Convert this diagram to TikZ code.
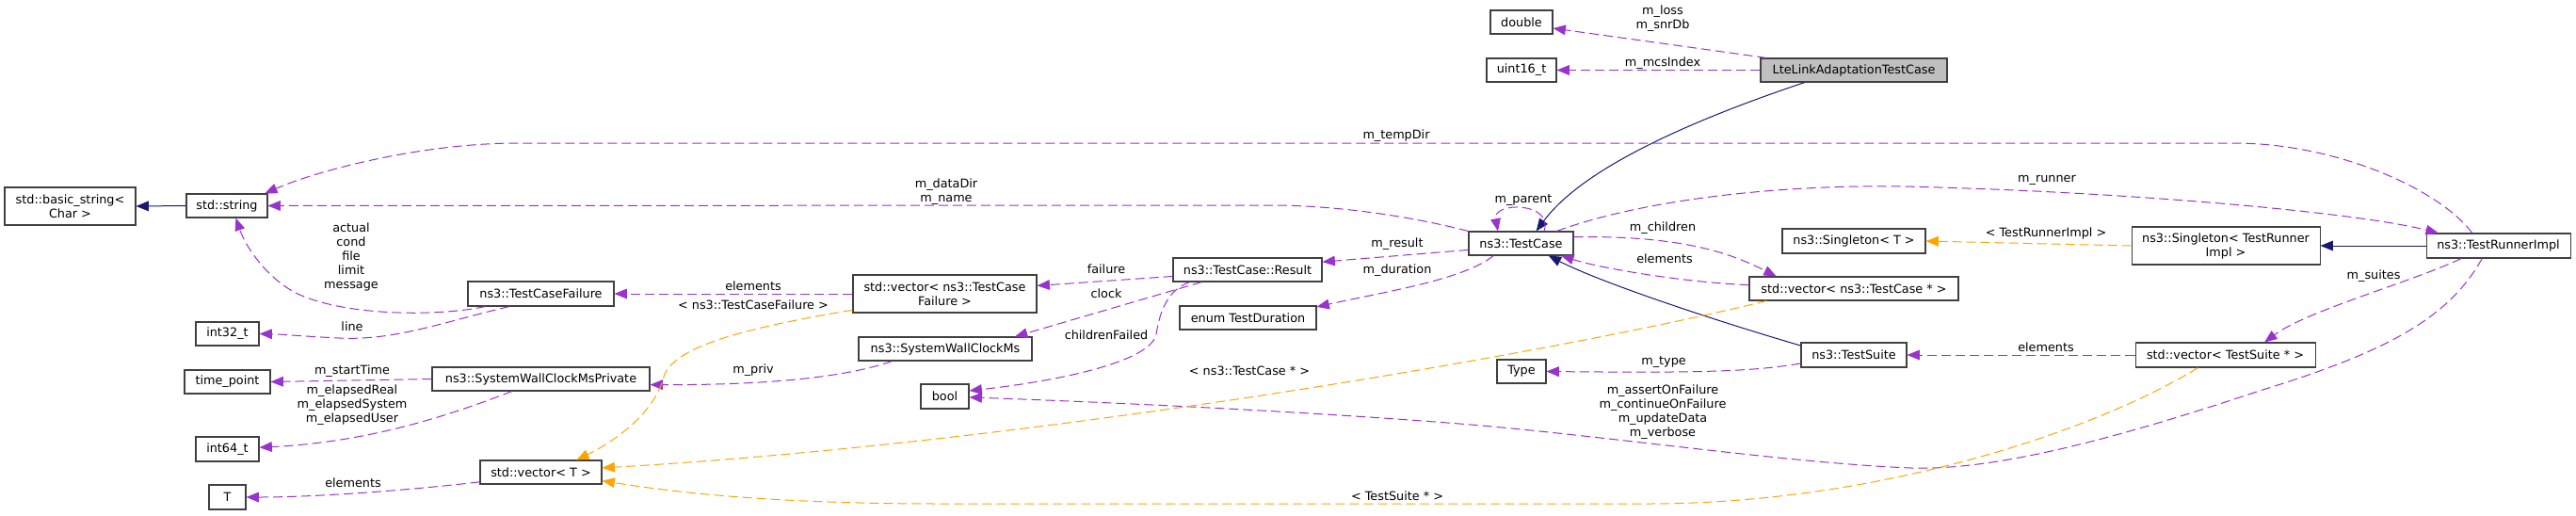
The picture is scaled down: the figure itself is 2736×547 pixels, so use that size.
\documentclass[tikz,border=0pt]{standalone}
\usepackage{fontspec}
\setmainfont{DejaVu Sans}
\usetikzlibrary{arrows.meta}
\definecolor{coloruse}{HTML}{9A32CD}
\definecolor{colortpl}{HTML}{FFA500}
\definecolor{colorinh}{HTML}{191970}
\tikzset{
	cls/.style={draw=black!75,line width=0.8pt,fill=white,inner sep=1pt,align=center,
		font=\fontsize{9.6}{11.25}\selectfont,minimum height=18.75pt},
	bw/.style={minimum width=#1*0.75pt},
	bh/.style={minimum height=#1*0.75pt},
	lbl/.style={inner sep=0pt,align=center,font=\fontsize{9.6}{11.25}\selectfont},
	member/.style={draw=coloruse,line width=0.75pt,dash pattern=on 7.5pt off 3.75pt,
		-{Triangle[length=10pt,width=8pt]}},
	tmpl/.style={member,draw=colortpl},
	inherit/.style={draw=colorinh,line width=0.75pt,-{Triangle[length=10pt,width=8pt]}},
}
\begin{document}
\begin{tikzpicture}[x=0.75pt,y=-0.75pt]
		\path[use as bounding box,fill=white] (0,0) rectangle (2736,547);
		
		% classes
		\node[cls,bw=139,bh=40] (bstr) at (74.5,219) {std::basic\_string<\\ Char >};
		\node[cls,bw=86] (str) at (241,218.5) {std::string};
		\node[cls,bw=67] (i32) at (241.5,354.5) {int32\_t};
		\node[cls,bw=91] (tp) at (241.5,405.5) {time\_point};
		\node[cls,bw=67,bh=26] (i64) at (241.5,477) {int64\_t};
		\node[cls,bw=39,bh=26] (tparam) at (241.5,528) {T};
		\node[cls,bw=155,bh=26] (tcf) at (574.5,312) {ns3::TestCaseFailure};
		\node[cls,bw=231] (swp) at (574.5,402.5) {ns3::SystemWallClockMsPrivate};
		\node[cls,bw=129] (vt) at (574.5,501.5) {std::vector< T >};
		\node[cls,bw=195,bh=40] (vtcf) at (1003.5,312) {std::vector< ns3::TestCase\\Failure >};
		\node[cls,bw=184] (swc) at (1004,370.5) {ns3::SystemWallClockMs};
		\node[cls,bw=51,bh=26] (bool) at (1003.5,421) {bool};
		\node[cls,bw=158] (res) at (1325,286.5) {ns3::TestCase::Result};
		\node[cls,bw=145] (dur) at (1325.5,337.5) {enum TestDuration};
		\node[cls,bw=66] (dbl) at (1616,23.5) {double};
		\node[cls,bw=74] (u16) at (1616,74.5) {uint16\_t};
		\node[cls,bw=111] (tc) at (1615.5,258.5) {ns3::TestCase};
		\node[cls,bw=52] (type) at (1616,394.5) {Type};
		\node[cls,bw=198,fill=black!25] (lte) at (1969,74.5) {LteLinkAdaptationTestCase};
		\node[cls,bw=152,bh=26] (sgt) at (1969,256) {ns3::Singleton< T >};
		\node[cls,bw=222] (vtc) at (1969,306.5) {std::vector< ns3::TestCase * >};
		\node[cls,bw=112,bh=26] (ts) at (1969,377) {ns3::TestSuite};
		\node[cls,bw=200,bh=40] (sgr) at (2364,261) {ns3::Singleton< TestRunner\\Impl >};
		\node[cls,bw=191,bh=26] (vts) at (2363.5,377) {std::vector< TestSuite * >};
		\node[cls,bw=153,bh=26] (tri) at (2653.5,261) {ns3::TestRunnerImpl};
		
		% inheritance
		\draw[inherit] (str.west) -- (bstr.east);
		\draw[inherit] (lte.194) .. controls (1790,130) and (1680,180) .. (tc.39);
		\draw[inherit] (ts.170) .. controls (1820,340) and (1700,300) .. (tc.-24);
		\draw[inherit] (tri.west) -- (sgr.east);
		
		% members
		\draw[member] (lte.172) -- (dbl.-11);
		\draw[member] (lte.west) -- (u16.east);
		\draw[member] (tc.28) .. controls (1650,214) and (1585,214) .. (tc.152);
		\draw[member] (tc.north west) .. controls (1500,230) and (1420,218) .. (1350,218) -- (str.east);
		\draw[member] (tri.154) .. controls (2590,200) and (2480,152) .. (2373,152) -- (550,152)
			.. controls (450,152) and (340,180) .. (str.18);
		\draw[member] (tc.187) -- (res.6);
		\draw[member] (tc.204) .. controls (1555,297) and (1470,310) .. (dur.9);
		\draw[member] (tc.7) .. controls (1790,250) and (1840,270) .. (vtc.171);
		\draw[member] (vtc.178) .. controls (1790,300) and (1700,285) .. (tc.-17);
		\draw[member] (tc.19) .. controls (1750,210) and (1900,196) .. (2020,198)
			.. controls (2250,203) and (2500,225) .. (tri.168);
		\draw[member] (res.185) -- (vtcf.5);
		\draw[member] (res.195) -- (swc.10);
		\draw[member] (res.192) .. controls (1240,308) and (1232,330) .. (1228,355)
			.. controls (1222,385) and (1120,405) .. (bool.13);
		\draw[member] (vtcf.west) -- (tcf.east);
		\draw[member] (tcf.193) .. controls (460,337) and (360,335) .. (312,310)
			.. controls (285,295) and (262,265) .. (str.-54);
		\draw[member] (tcf.202) .. controls (470,342) and (420,362) .. (360,359)
			.. controls (320,357) and (300,355) .. (i32.east);
		\draw[member] (swp.west) -- (tp.east);
		\draw[member] (swp.203) .. controls (460,448) and (380,470) .. (i64.3);
		\draw[member] (swc.193) .. controls (900,400) and (820,409) .. (swp.-3);
		\draw[member] (vt.189) .. controls (440,520) and (340,528) .. (tparam.east);
		\draw[member] (ts.189) .. controls (1860,395) and (1800,396) .. (type.east);
		\draw[member] (vts.west) -- (ts.east);
		\draw[member] (tri.199) .. controls (2560,300) and (2450,330) .. (vts.18);
		\draw[member] (tri.218) .. controls (2600,340) and (2530,375) .. (2400,415)
			.. controls (2250,465) and (2120,500) .. (2030,497)
			.. controls (1900,492) and (1700,462) .. (1550,450)
			.. controls (1400,438) and (1200,428) .. (bool.-2);
		
		% templates
		\draw[tmpl] (vtcf.190) .. controls (780,350) and (715,370) .. (705,400)
			.. controls (695,440) and (650,470) .. (vt.19);
		\draw[tmpl] (vtc.188) .. controls (1650,375) and (1100,470) .. (vt.4);
		\draw[tmpl] (vts.205) .. controls (2230,455) and (2000,535) .. (1750,535) -- (1000,535)
			.. controls (800,535) and (700,520) .. (vt.-8);
		\draw[tmpl] (sgr.west) -- (sgt.east);
		
		% labels
		\node[lbl] (l-loss) at (1766,20) {m\_loss\\m\_snrDb};
		\node[lbl] (l-mcs) at (1766,67) {m\_mcsIndex};
		\node[lbl] (l-temp) at (1483,144) {m\_tempDir};
		\node[lbl] (l-runner) at (2174,191) {m\_runner};
		\node[lbl] (l-data) at (1005,203.5) {m\_dataDir\\m\_name};
		\node[lbl] (l-parent) at (1618,213) {m\_parent};
		\node[lbl] (l-children) at (1766,242) {m\_children};
		\node[lbl] (l-eltc) at (1768,275) {elements};
		\node[lbl] (l-result) at (1484,259) {m\_result};
		\node[lbl] (l-dur) at (1484,287) {m\_duration};
		\node[lbl] (l-fail) at (1175,286) {failure};
		\node[lbl] (l-clock) at (1175,312) {clock};
		\node[lbl] (l-chf) at (1175,356) {childrenFailed};
		\node[lbl] (l-sgr) at (2173,248) {< TestRunnerImpl >};
		\node[lbl] (l-suites) at (2521,293) {m\_suites};
		\node[lbl] (l-elts) at (2173,369) {elements};
		\node[lbl] (l-type) at (1767,385) {m\_type};
		\node[lbl] (l-flags) at (1766,438) {m\_assertOnFailure\\m\_continueOnFailure\\m\_updateData\\m\_verbose};
		\node[lbl] (l-vtc) at (1327,394) {< ns3::TestCase * >};
		\node[lbl] (l-vts) at (1484,527) {< TestSuite * >};
		\node[lbl] (l-eltcf) at (800,304) {elements};
		\node[lbl] (l-vtcf) at (800,324) {< ns3::TestCaseFailure >};
		\node[lbl] (l-priv) at (800,393) {m\_priv};
		\node[lbl] (l-str) at (373,273) {actual\\cond\\file\\limit\\message};
		\node[lbl] (l-line) at (374,347) {line};
		\node[lbl] (l-start) at (374,394) {m\_startTime};
		\node[lbl] (l-elapsed) at (374,430) {m\_elapsedReal\\m\_elapsedSystem\\m\_elapsedUser};
		\node[lbl] (l-elt) at (375,513) {elements};
		
		\end{tikzpicture}
\end{document}
